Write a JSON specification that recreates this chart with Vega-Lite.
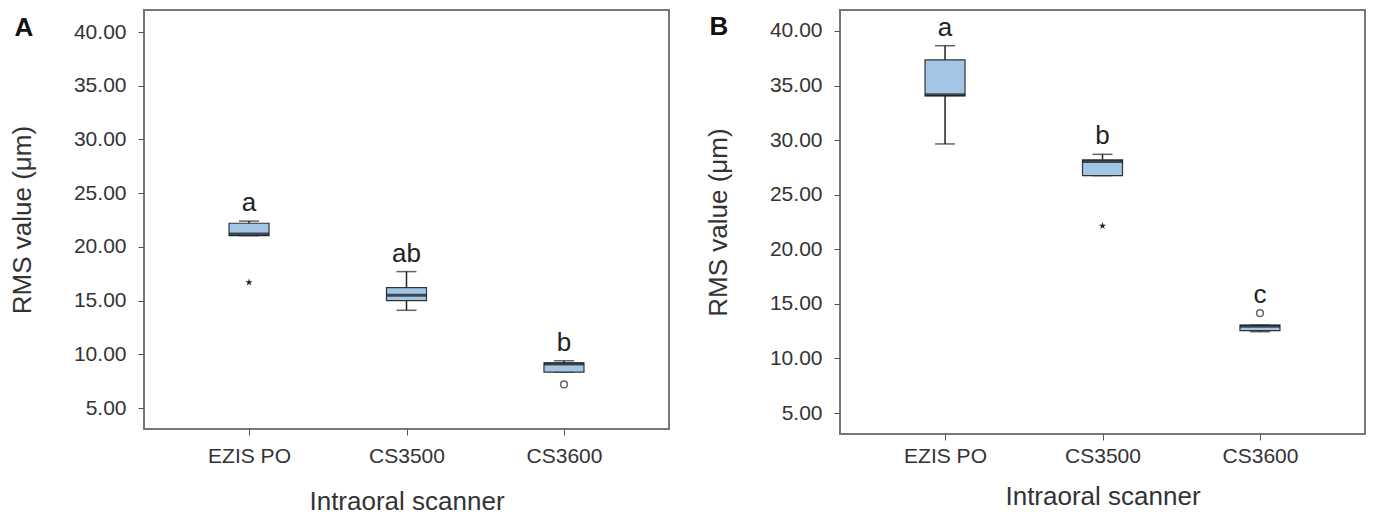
{
  "$schema": "https://vega.github.io/schema/vega-lite/v6.json",
  "padding": {"left": 8, "top": 9, "right": 5, "bottom": 5},
  "background": "white",
  "datasets": {
    "stats": [
      {"panel": "A", "scanner": "EZIS PO", "min": 21.05, "q1": 21.05, "median": 21.2, "q3": 22.2, "max": 22.4, "letter": "a", "top": 22.4},
      {"panel": "A", "scanner": "CS3500", "min": 14.1, "q1": 15.0, "median": 15.5, "q3": 16.2, "max": 17.7, "letter": "ab", "top": 17.7},
      {"panel": "A", "scanner": "CS3600", "min": 8.35, "q1": 8.35, "median": 9.1, "q3": 9.2, "max": 9.4, "letter": "b", "top": 9.4},
      {"panel": "B", "scanner": "EZIS PO", "min": 29.65, "q1": 34.05, "median": 34.15, "q3": 37.35, "max": 38.65, "letter": "a", "top": 38.65},
      {"panel": "B", "scanner": "CS3500", "min": 26.75, "q1": 26.75, "median": 28.05, "q3": 28.2, "max": 28.7, "letter": "b", "top": 28.7},
      {"panel": "B", "scanner": "CS3600", "min": 12.45, "q1": 12.55, "median": 12.95, "q3": 13.05, "max": 13.05, "letter": "c", "top": 14.15}
    ],
    "outliers": [
      {"panel": "A", "scanner": "EZIS PO", "value": 16.7, "kind": "star"},
      {"panel": "A", "scanner": "CS3600", "value": 7.2, "kind": "circle"},
      {"panel": "B", "scanner": "CS3500", "value": 22.15, "kind": "star"},
      {"panel": "B", "scanner": "CS3600", "value": 14.15, "kind": "circle"}
    ]
  },
  "spacing": 34,
  "hconcat": [
    {
      "width": 525,
      "height": 419,
      "title": {"text": "A", "dy": 35, "dx": 5},
      "encoding": {
        "x": {"field": "scanner", "type": "nominal", "sort": ["EZIS PO", "CS3500", "CS3600"], "scale": {"type": "point", "padding": 0.667}, "title": "Intraoral scanner"}
      },
      "layer": [
        {"data": {"name": "stats"}, "transform": [{"filter": "datum.panel === 'A'"}],
         "mark": {"type": "rule", "color": "#222", "strokeWidth": 1.5},
         "encoding": {"y": {"field": "min", "type": "quantitative", "scale": {"domain": [3.05, 42.05], "nice": false, "zero": false}, "axis": {"values": [5, 10, 15, 20, 25, 30, 35, 40], "format": ".2f"}, "title": "RMS value (μm)"}, "y2": {"field": "max"}}},
        {"data": {"name": "stats"}, "transform": [{"filter": "datum.panel === 'A'"}],
         "mark": {"type": "tick", "color": "#222", "size": 20, "thickness": 1.5},
         "encoding": {"y": {"field": "max", "type": "quantitative", "scale": {"domain": [3.05, 42.05], "nice": false, "zero": false}, "title": "RMS value (μm)"}}},
        {"data": {"name": "stats"}, "transform": [{"filter": "datum.panel === 'A'"}],
         "mark": {"type": "tick", "color": "#222", "size": 20, "thickness": 1.5},
         "encoding": {"y": {"field": "min", "type": "quantitative", "scale": {"domain": [3.05, 42.05], "nice": false, "zero": false}, "title": "RMS value (μm)"}}},
        {"data": {"name": "stats"}, "transform": [{"filter": "datum.panel === 'A'"}],
         "mark": {"type": "bar", "size": 40, "fill": "#a3c6e6", "stroke": "#333", "strokeWidth": 1.2},
         "encoding": {"y": {"field": "q1", "type": "quantitative", "scale": {"domain": [3.05, 42.05], "nice": false, "zero": false}, "title": "RMS value (μm)"}, "y2": {"field": "q3"}}},
        {"data": {"name": "stats"}, "transform": [{"filter": "datum.panel === 'A'"}],
         "mark": {"type": "tick", "color": "#111", "size": 40, "thickness": 3},
         "encoding": {"y": {"field": "median", "type": "quantitative", "scale": {"domain": [3.05, 42.05], "nice": false, "zero": false}, "title": "RMS value (μm)"}}},
        {"data": {"name": "outliers"}, "transform": [{"filter": "datum.panel === 'A' && datum.kind === 'star'"}],
         "mark": {"type": "point", "shape": "M0,-1L0.22,-0.3L0.95,-0.3L0.36,0.12L0.59,0.81L0,0.38L-0.59,0.81L-0.36,0.12L-0.95,-0.3L-0.22,-0.3Z", "filled": true, "color": "#222", "size": 60, "opacity": 1},
         "encoding": {"y": {"field": "value", "type": "quantitative", "scale": {"domain": [3.05, 42.05], "nice": false, "zero": false}, "title": "RMS value (μm)"}}},
        {"data": {"name": "outliers"}, "transform": [{"filter": "datum.panel === 'A' && datum.kind === 'circle'"}],
         "mark": {"type": "point", "shape": "circle", "filled": false, "stroke": "#666", "strokeWidth": 1.5, "size": 45, "opacity": 1},
         "encoding": {"y": {"field": "value", "type": "quantitative", "scale": {"domain": [3.05, 42.05], "nice": false, "zero": false}, "title": "RMS value (μm)"}}},
        {"data": {"name": "stats"}, "transform": [{"filter": "datum.panel === 'A'"}],
         "mark": {"type": "text", "fontSize": 26, "color": "#222", "baseline": "alphabetic", "dy": -10, "font": "Liberation Sans"},
         "encoding": {"y": {"field": "top", "type": "quantitative", "scale": {"domain": [3.05, 42.05], "nice": false, "zero": false}, "title": "RMS value (μm)"}, "text": {"field": "letter"}}}
      ]
    },
    {
      "width": 525,
      "height": 424,
      "title": {"text": "B", "dy": 34, "dx": 4},
      "encoding": {
        "x": {"field": "scanner", "type": "nominal", "sort": ["EZIS PO", "CS3500", "CS3600"], "scale": {"type": "point", "padding": 0.667}, "title": "Intraoral scanner", "axis": {"labelPadding": 5, "titlePadding": 17}}
      },
      "layer": [
        {"data": {"name": "stats"}, "transform": [{"filter": "datum.panel === 'B'"}],
         "mark": {"type": "rule", "color": "#222", "strokeWidth": 1.5},
         "encoding": {"y": {"field": "min", "type": "quantitative", "scale": {"domain": [3.08, 41.92], "nice": false, "zero": false}, "axis": {"values": [5, 10, 15, 20, 25, 30, 35, 40], "format": ".2f"}, "title": "RMS value (μm)"}, "y2": {"field": "max"}}},
        {"data": {"name": "stats"}, "transform": [{"filter": "datum.panel === 'B'"}],
         "mark": {"type": "tick", "color": "#222", "size": 20, "thickness": 1.5},
         "encoding": {"y": {"field": "max", "type": "quantitative", "scale": {"domain": [3.08, 41.92], "nice": false, "zero": false}, "title": "RMS value (μm)"}}},
        {"data": {"name": "stats"}, "transform": [{"filter": "datum.panel === 'B'"}],
         "mark": {"type": "tick", "color": "#222", "size": 20, "thickness": 1.5},
         "encoding": {"y": {"field": "min", "type": "quantitative", "scale": {"domain": [3.08, 41.92], "nice": false, "zero": false}, "title": "RMS value (μm)"}}},
        {"data": {"name": "stats"}, "transform": [{"filter": "datum.panel === 'B'"}],
         "mark": {"type": "bar", "size": 40, "fill": "#a3c6e6", "stroke": "#333", "strokeWidth": 1.2},
         "encoding": {"y": {"field": "q1", "type": "quantitative", "scale": {"domain": [3.08, 41.92], "nice": false, "zero": false}, "title": "RMS value (μm)"}, "y2": {"field": "q3"}}},
        {"data": {"name": "stats"}, "transform": [{"filter": "datum.panel === 'B'"}],
         "mark": {"type": "tick", "color": "#111", "size": 40, "thickness": 3},
         "encoding": {"y": {"field": "median", "type": "quantitative", "scale": {"domain": [3.08, 41.92], "nice": false, "zero": false}, "title": "RMS value (μm)"}}},
        {"data": {"name": "outliers"}, "transform": [{"filter": "datum.panel === 'B' && datum.kind === 'star'"}],
         "mark": {"type": "point", "shape": "M0,-1L0.22,-0.3L0.95,-0.3L0.36,0.12L0.59,0.81L0,0.38L-0.59,0.81L-0.36,0.12L-0.95,-0.3L-0.22,-0.3Z", "filled": true, "color": "#222", "size": 60, "opacity": 1},
         "encoding": {"y": {"field": "value", "type": "quantitative", "scale": {"domain": [3.08, 41.92], "nice": false, "zero": false}, "title": "RMS value (μm)"}}},
        {"data": {"name": "outliers"}, "transform": [{"filter": "datum.panel === 'B' && datum.kind === 'circle'"}],
         "mark": {"type": "point", "shape": "circle", "filled": false, "stroke": "#666", "strokeWidth": 1.5, "size": 45, "opacity": 1},
         "encoding": {"y": {"field": "value", "type": "quantitative", "scale": {"domain": [3.08, 41.92], "nice": false, "zero": false}, "title": "RMS value (μm)"}}},
        {"data": {"name": "stats"}, "transform": [{"filter": "datum.panel === 'B'"}],
         "mark": {"type": "text", "fontSize": 26, "color": "#222", "baseline": "alphabetic", "dy": -10, "font": "Liberation Sans"},
         "encoding": {"y": {"field": "top", "type": "quantitative", "scale": {"domain": [3.08, 41.92], "nice": false, "zero": false}, "title": "RMS value (μm)"}, "text": {"field": "letter"}}}
      ]
    }
  ],
  "config": {
    "font": "Liberation Sans",
    "view": {"stroke": "#777", "strokeWidth": 2},
    "axis": {"domain": false, "grid": false, "labelFont": "Liberation Sans", "labelFontSize": 21, "labelColor": "#333", "tickColor": "#555", "tickSize": 6, "titleFont": "Liberation Sans", "titleFontSize": 26, "titleFontWeight": "normal", "titleColor": "#333"},
    "axisX": {"labelAngle": 0, "labelPadding": 10, "titlePadding": 22},
    "axisY": {"labelPadding": 12, "titlePadding": 38},
    "title": {"fontSize": 26, "fontWeight": "bold", "anchor": "start", "frame": "bounds", "color": "#111", "font": "Liberation Sans"}
  }
}
